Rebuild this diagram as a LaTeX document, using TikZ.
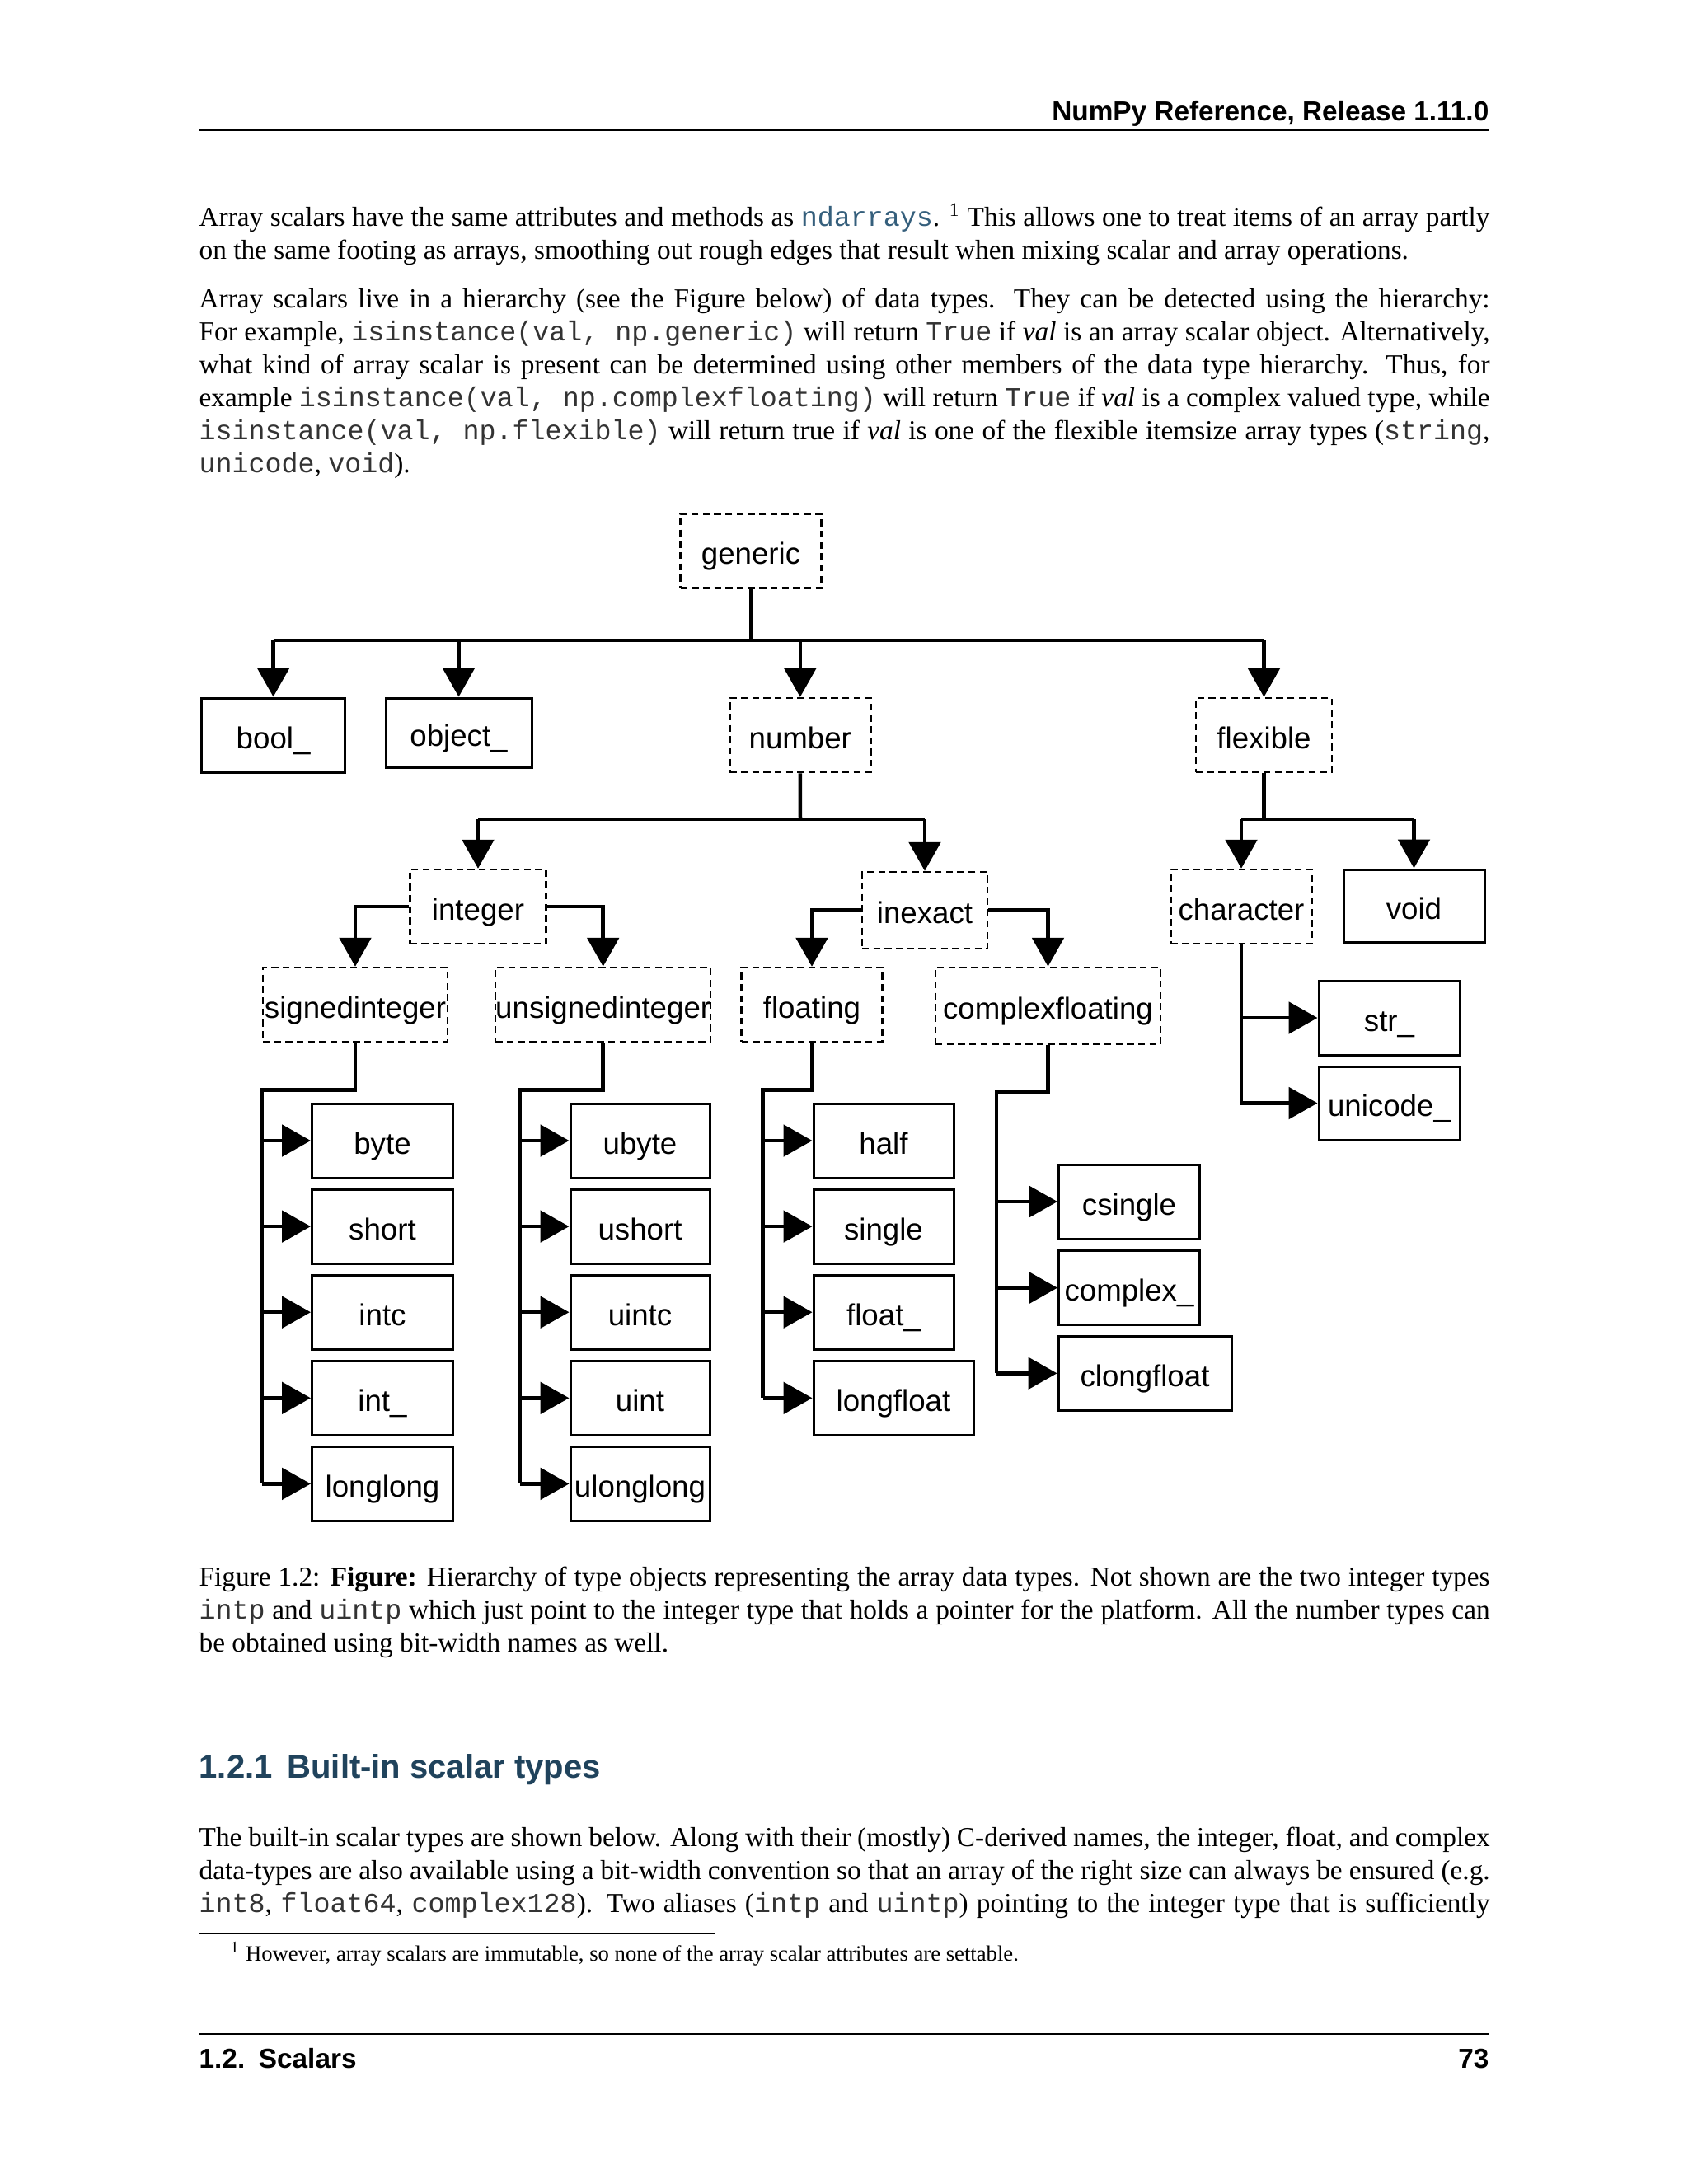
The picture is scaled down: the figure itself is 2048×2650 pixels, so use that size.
\documentclass[tikz,border=0pt]{standalone}
\usepackage{fontspec}
\setmainfont{Liberation Serif}
\setsansfont{Liberation Sans}
\setmonofont{Liberation Mono}
\usepackage{xcolor}
\usepackage{tikz}
\usetikzlibrary{arrows.meta}
\definecolor{linkblue}{rgb}{0.208,0.374,0.486}
\definecolor{titleblue}{rgb}{0.126,0.263,0.361}
\newcommand{\pxu}{0.010542cm}
\newcommand{\cd}[1]{\textcolor{black!80}{\texttt{#1}}}
\tolerance=9999
\hyphenpenalty=10000
\tikzset{
  tbox/.style={draw, line width=0.9pt, inner sep=0pt,
    font=\sffamily\fontsize{11}{13}\selectfont, text height=9.6pt, text depth=0pt,
    minimum width=171*\pxu, minimum height=90*\pxu},
  abox/.style={tbox, line width=0.75pt, dash pattern=on 2.5pt off 1.6pt},
  link/.style={line width=1.35pt},
  arr/.style={link, -{Triangle[length=10.5pt,width=11.5pt]}},
  body/.style={inner sep=0pt, anchor=base west, text width=6.5in, align=justify,
    font=\fontsize{10}{12}\selectfont},
  head/.style={inner sep=0pt, font=\sffamily\bfseries\fontsize{10}{12}\selectfont},
}
\begin{document}
\begin{tikzpicture}[x=\pxu, y=-\pxu]
  \fill[white] (0,0) rectangle (2048,2650);
  \useasboundingbox (0,0) rectangle (2048,2650);

  % running head
  \node[head, anchor=base east] (runhead) at (1807,146) {NumPy Reference, Release 1.11.0};
  \coordinate (hl) at (241,158);
  \coordinate (hr) at (1807,158);
  \draw[line width=0.5pt] (hl) -- (hr);

  % text above the figure
  \node[body] (para1) at (241,274.5) {Array scalars have the same attributes and methods as
    \textcolor{linkblue}{\texttt{ndarrays}}. \textsuperscript{1} This allows one to treat items of an array partly\linebreak
    on the same footing as arrays, smoothing out rough edges that result when mixing scalar and array operations.};
  \node[body] (para2) at (241,373) {Array scalars live in a hierarchy (see the Figure below) of data types.  They can be detected using the hierarchy:\linebreak
    For example, \cd{isinstance(val, np.generic)} will return \cd{True} if \emph{val} is an array scalar object. Alternatively,\linebreak
    what kind of array scalar is present can be determined using other members of the data type hierarchy.  Thus, for\linebreak
    example \cd{isinstance(val, np.complexfloating)} will return \cd{True} if \emph{val} is a complex valued type, while\linebreak
    \cd{isinstance(val, np.flexible)} will return true if \emph{val} is one of the flexible itemsize array types (\cd{string},\linebreak
    \cd{unicode}, \cd{void}).};

  % top of the hierarchy
  \node[abox] (generic) at (911,668.5) {generic};
  \node[tbox, minimum width=174*\pxu] (boolx) at (331.6,892) {bool\_};
  \node[tbox, minimum width=177*\pxu, minimum height=84*\pxu] (objectx) at (556.5,889) {object\_};
  \node[abox] (number) at (970.8,892) {number};
  \node[abox, minimum width=165*\pxu] (flexible) at (1533.5,892) {flexible};

  \coordinate (bus0) at (911,777);
  \draw[link] (generic.south) -- (bus0);
  \draw[link] (boolx.north |- bus0) -- (flexible.north |- bus0);
  \foreach \nm in {boolx,objectx,number,flexible}
    \draw[arr] (\nm.north |- bus0) -- (\nm.north);

  % number and flexible
  \node[abox, minimum width=165*\pxu] (integer) at (580,1100) {integer};
  \node[abox, minimum width=152*\pxu, minimum height=93*\pxu] (inexact) at (1122,1104.5) {inexact};
  \node[abox] (character) at (1506,1100) {character};
  \node[tbox, minimum height=88*\pxu] (void) at (1715.5,1099) {void};

  \coordinate (bus1) at (971,994);
  \coordinate (bus2) at (1533.5,994);
  \draw[link] (number.south) -- (bus1);
  \draw[link] (integer.north |- bus1) -- (inexact.north |- bus1);
  \draw[arr] (integer.north |- bus1) -- (integer.north);
  \draw[arr] (inexact.north |- bus1) -- (inexact.north);
  \draw[link] (flexible.south) -- (bus2);
  \draw[link] (character.north |- bus2) -- (void.north |- bus2);
  \draw[arr] (character.north |- bus2) -- (character.north);
  \draw[arr] (void.north |- bus2) -- (void.north);

  % integer and inexact
  \node[abox, minimum width=224*\pxu] (signedint) at (431,1219) {signedinteger};
  \node[abox, minimum width=259*\pxu] (unsignedint) at (731.7,1219) {unsignedinteger};
  \node[abox, minimum width=170.6*\pxu] (floating) at (985,1219) {floating};
  \node[abox, minimum width=273*\pxu, minimum height=93*\pxu] (cfloating) at (1271.5,1220.5) {complexfloating};

  \draw[arr] (integer.west) -| (signedint.north);
  \draw[arr] (integer.east) -| (unsignedint.north);
  \draw[arr] (inexact.west) -| (floating.north);
  \draw[arr] (inexact.east) -| (cfloating.north);

  % character
  \node[tbox] (strx) at (1685.5,1235) {str\_};
  \node[tbox, minimum height=89*\pxu] (unicodex) at (1685.5,1338.5) {unicode\_};
  \draw[arr] (character.south) |- (unicodex.west);
  \draw[arr] (character.south |- strx.west) -- (strx.west);

  % leaf types, one column each
  \foreach \nm/\lab [count=\i from 0] in {byte/byte, short/short, intc/intc, intx/int\_, longlong/longlong}
    \node[tbox] (\nm) at (464,1384+104.1*\i) {\lab};
  \foreach \nm/\lab [count=\i from 0] in {ubyte/ubyte, ushort/ushort, uintc/uintc, uint/uint, ulonglong/ulonglong}
    \node[tbox, minimum width=169*\pxu] (\nm) at (776.5,1384+104.1*\i) {\lab};
  \foreach \nm/\lab [count=\i from 0] in {half/half, single/single, floatx/float\_}
    \node[tbox, minimum width=170*\pxu] (\nm) at (1072,1384+104.1*\i) {\lab};
  \node[tbox, minimum width=194*\pxu] (longfloat) at (1084,1696.3) {longfloat};
  \node[tbox] (csingle) at (1370,1458) {csingle};
  \node[tbox] (complexx) at (1370,1562.6) {complex\_};
  \node[tbox, minimum width=210*\pxu] (clongfloat) at (1389,1666.3) {clongfloat};

  \coordinate (sgl) at (318,1322.5);
  \coordinate (ugl) at (630.7,1322.5);
  \coordinate (fgl) at (925.7,1322.5);
  \coordinate (cgl) at (1209,1324.4);
  \draw[link] (signedint.south) |- (sgl) -- (sgl |- longlong.west);
  \draw[link] (unsignedint.south) |- (ugl) -- (ugl |- ulonglong.west);
  \draw[link] (floating.south) |- (fgl) -- (fgl |- longfloat.west);
  \draw[link] (cfloating.south) |- (cgl) -- (cgl |- clongfloat.west);
  \foreach \nm in {byte,short,intc,intx,longlong}
    \draw[arr] (sgl |- \nm.west) -- (\nm.west);
  \foreach \nm in {ubyte,ushort,uintc,uint,ulonglong}
    \draw[arr] (ugl |- \nm.west) -- (\nm.west);
  \foreach \nm in {half,single,floatx,longfloat}
    \draw[arr] (fgl |- \nm.west) -- (\nm.west);
  \foreach \nm in {csingle,complexx,clongfloat}
    \draw[arr] (cgl |- \nm.west) -- (\nm.west);

  % caption
  \node[body] (caption) at (241,1924) {Figure 1.2: \textbf{Figure:} Hierarchy of type objects representing the array data types. Not shown are the two integer types\linebreak
    \cd{intp} and \cd{uintp} which just point to the integer type that holds a pointer for the platform. All the number types can\linebreak
    be obtained using bit-width names as well.};

  % next section
  \node[inner sep=0pt, anchor=base west, text=titleblue, font=\sffamily\bfseries\fontsize{12}{14}\selectfont]
    (sechead) at (241,2157.6) {1.2.1\hspace{0.45em}Built-in scalar types};
  \node[body] (para3) at (241,2240) {The built-in scalar types are shown below. Along with their (mostly) C-derived names, the integer, float, and complex\linebreak
    data-types are also available using a bit-width convention so that an array of the right size can always be ensured (e.g.\linebreak
    \cd{int8}, \cd{float64}, \cd{complex128}).  Two aliases (\cd{intp} and \cd{uintp}) pointing to the integer type that is sufficiently\linebreak};

  % footnote
  \coordinate (fl) at (241,2346);
  \coordinate (fr) at (867,2346);
  \draw[line width=0.4pt] (fl) -- (fr);
  \node[inner sep=0pt, anchor=base west, font=\fontsize{8}{9.5}\selectfont] (fnote) at (279,2379)
    {\textsuperscript{1} However, array scalars are immutable, so none of the array scalar attributes are settable.};

  % running foot
  \coordinate (ll) at (241,2468);
  \coordinate (lr) at (1807,2468);
  \draw[line width=0.5pt] (ll) -- (lr);
  \node[head, anchor=base west] (footl) at (241,2509) {1.2.\hspace{0.5em}Scalars};
  \node[head, anchor=base east] (footr) at (1807,2509) {73};
\end{tikzpicture}
\end{document}
